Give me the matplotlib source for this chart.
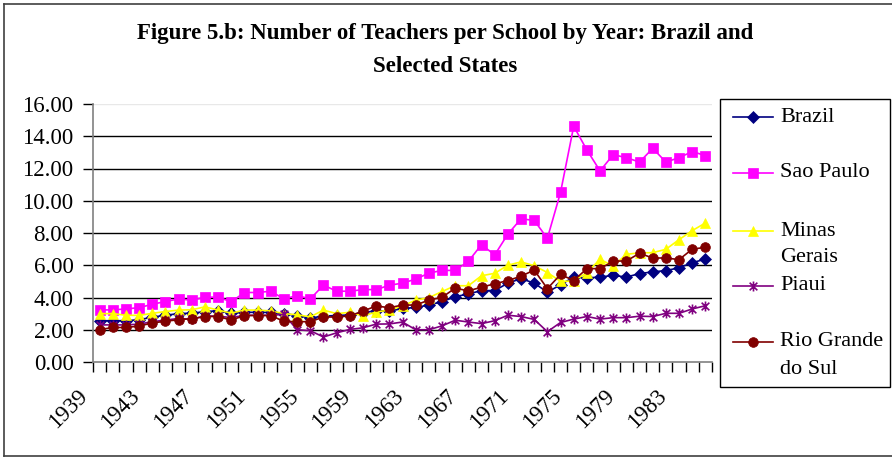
import numpy as np
import matplotlib
matplotlib.use('Agg')
import matplotlib.pyplot as plt
from matplotlib.path import Path
from matplotlib.lines import Line2D
from matplotlib.patches import Rectangle
import matplotlib.transforms as mtransforms

# Data (teachers per school, 1939-1985)
years = list(range(1939, 1986))

brazil = [2.56, 2.56, 2.56, 2.62, 2.78, 2.90, 3.00, 3.03, 3.12, 3.18,
          3.03, 3.08, 3.08, 3.08, 3.00, 2.88, 2.72, 2.85, 2.88, 2.92,
          3.06, 3.18, 3.15, 3.32, 3.38, 3.53, 3.74, 4.05, 4.22, 4.43,
          4.43, 4.89, 5.17, 4.89, 4.33, 4.79, 5.27, 5.21, 5.27, 5.37,
          5.27, 5.48, 5.59, 5.67, 5.84, 6.16, 6.38]
sao_paulo = [3.23, 3.23, 3.29, 3.37, 3.58, 3.75, 3.91, 3.83, 4.02, 4.02,
             3.73, 4.31, 4.31, 4.39, 3.91, 4.12, 3.91, 4.77, 4.39, 4.39,
             4.49, 4.49, 4.76, 4.89, 5.14, 5.51, 5.68, 5.68, 6.24, 7.28,
             6.64, 7.93, 8.88, 8.78, 7.67, 10.52, 14.62, 13.15, 11.85, 12.86,
             12.67, 12.40, 13.25, 12.40, 12.67, 13.05, 12.80]
minas_gerais = [3.00, 3.00, 2.90, 2.89, 3.02, 3.13, 3.22, 3.24, 3.42, 3.22,
                3.03, 3.22, 3.22, 3.17, 3.00, 2.93, 2.80, 3.22, 3.00, 3.08,
                2.86, 3.10, 3.22, 3.47, 3.84, 3.99, 4.37, 4.73, 4.73, 5.35,
                5.50, 6.00, 6.21, 5.97, 5.55, 5.00, 5.02, 5.55, 6.37, 5.95,
                6.68, 6.77, 6.78, 6.99, 7.59, 8.15, 8.62]
piaui = [2.30, 2.30, 2.30, 2.35, 2.50, 2.60, 2.70, 2.65, 2.85, 2.85,
         2.75, 2.90, 2.90, 2.90, 2.95, 2.00, 1.94, 1.55, 1.81, 2.02,
         2.12, 2.35, 2.36, 2.48, 2.00, 2.00, 2.24, 2.59, 2.48, 2.38,
         2.56, 2.90, 2.82, 2.64, 1.88, 2.45, 2.66, 2.82, 2.66, 2.75,
         2.75, 2.84, 2.82, 3.02, 3.02, 3.29, 3.49]
rio_grande = [2.01, 2.14, 2.14, 2.23, 2.42, 2.53, 2.62, 2.69, 2.82, 2.82,
              2.60, 2.88, 2.88, 2.88, 2.52, 2.50, 2.50, 2.79, 2.79, 2.86,
              3.16, 3.47, 3.37, 3.53, 3.53, 3.84, 4.01, 4.58, 4.41, 4.64,
              4.85, 5.05, 5.32, 5.70, 4.55, 5.43, 5.05, 5.79, 5.79, 6.25,
              6.27, 6.74, 6.45, 6.45, 6.35, 7.00, 7.11]

labels = ['Brazil', 'Sao Paulo', 'Minas\nGerais', 'Piaui', 'Rio Grande\ndo Sul']
colors = ['#000080', '#FF00FF', '#FFFF00', '#800080', '#800000']

# Excel style "star" marker: an X with a vertical bar
star = Path([(-1, -1), (1, 1), (-1, 1), (1, -1), (0, -1.3), (0, 1.3)],
            [Path.MOVETO, Path.LINETO, Path.MOVETO, Path.LINETO, Path.MOVETO, Path.LINETO])
markers = ['D', 's', '^', star, 'o']
msizes = [5.8, 6.6, 7.8, 7.2, 7.0]

plt.rcParams['font.family'] = ['Liberation Serif', 'DejaVu Serif']

W, H = 892, 458
fig = plt.figure(figsize=(W / 100, H / 100), dpi=100)
fig.patch.set_facecolor('white')


def fx(px):
    return px / W


def fy(py):
    return 1 - py / H


ax = fig.add_axes([fx(93), fy(362), fx(712) - fx(93), fy(104) - fy(362)])

x = np.arange(len(years))
series = [brazil, sao_paulo, minas_gerais, piaui, rio_grande]
for vals, col, mk, ms in zip(series, colors, markers, msizes):
    ax.plot(x, vals, color=col, lw=1.2, marker=mk, markersize=ms,
            markerfacecolor=col, markeredgecolor=col, markeredgewidth=1.2 if mk is star else 0.5,
            zorder=3)

ax.set_xlim(-0.5, len(years) - 0.5)
ax.set_ylim(0, 16)

# gridlines
for yv in range(2, 16, 2):
    ax.axhline(yv, color='black', lw=1.0, zorder=1)
ax.axhline(16, color='#e8e8e8', lw=1.0, zorder=1)

for s in ['top', 'right']:
    ax.spines[s].set_visible(False)
for s in ['left', 'bottom']:
    ax.spines[s].set_color('#808080')
    ax.spines[s].set_linewidth(1.2)

ax.set_yticks(np.arange(0, 17, 2))
ax.set_yticklabels([f'{v:.2f}' for v in np.arange(0, 17, 2)], fontsize=16.5)
ax.tick_params(axis='y', direction='out', length=7, width=1, color='black', pad=7)

ax.set_xticks(x[::4])
ax.set_xticklabels([str(y) for y in years[::4]], rotation=45, ha='right', fontsize=16.5)
ax.set_xticks(np.arange(-0.5, len(years), 1), minor=True)
ax.tick_params(axis='x', which='major', length=0, pad=17)
ax.tick_params(axis='x', which='minor', direction='out', length=7, width=1, color='black')
offset = mtransforms.ScaledTranslation(-8 / 100, 0, fig.dpi_scale_trans)
for lab in ax.get_xticklabels():
    lab.set_transform(lab.get_transform() + offset)

# title
fig.text(fx(445), fy(34), 'Figure 5.b: Number of Teachers per School by Year: Brazil and',
         ha='center', va='center', fontsize=16.5, fontweight='bold')
fig.text(fx(445), fy(66), 'Selected States',
         ha='center', va='center', fontsize=16.5, fontweight='bold')

# legend box drawn like the Excel one
fig.add_artist(Rectangle((fx(720), fy(387)), fx(890) - fx(720), fy(99) - fy(387),
                         transform=fig.transFigure, fill=False, edgecolor='black', lw=1.0))
entry_y = [117, 173, 231, 286, 342]
for lab, col, mk, ms, ey in zip(labels, colors, markers, msizes, entry_y):
    fig.add_artist(Line2D([fx(733), fx(773)], [fy(ey), fy(ey)], transform=fig.transFigure,
                          color=col, lw=1.2))
    fig.add_artist(Line2D([fx(753)], [fy(ey)], transform=fig.transFigure, marker=mk,
                          markersize=ms, color=col, markerfacecolor=col, markeredgecolor=col,
                          markeredgewidth=1.2 if mk is star else 0.5, lw=0))
    for k, line in enumerate(lab.split('\n')):
        fig.text(fx(780), fy(ey + 27 * k), line, ha='left', va='center', fontsize=16)

# outer chart frame
fig.add_artist(Line2D([fx(4), fx(4)], [fy(4), fy(456)], transform=fig.transFigure,
                      color='#404040', lw=1.2))
fig.add_artist(Line2D([fx(4), fx(892)], [fy(4), fy(4)], transform=fig.transFigure,
                      color='#404040', lw=1.2))
fig.add_artist(Line2D([fx(4), fx(892)], [fy(456), fy(456)], transform=fig.transFigure,
                      color='#404040', lw=1.2))

fig.savefig('out.png', dpi=100, facecolor='white')
